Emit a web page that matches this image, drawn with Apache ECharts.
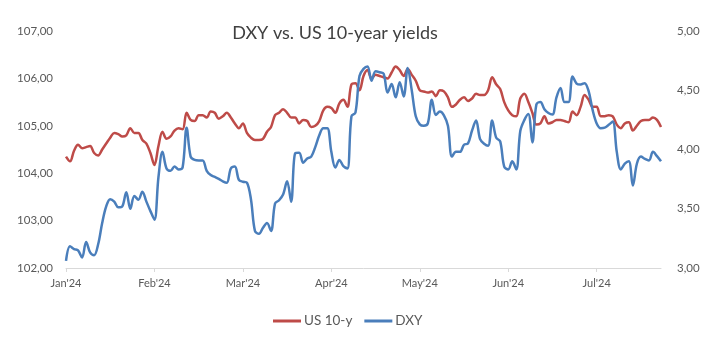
<!DOCTYPE html>
<html>
<head>
<meta charset="utf-8">
<script src="https://cdn.jsdelivr.net/npm/echarts@6/dist/echarts.min.js"></script>
<style>
  html, body { margin: 0; padding: 0; background: #ffffff; }
  #chart { width: 726px; height: 341px; }
</style>
</head>
<body>
<div id="chart"></div>
<script>
// Trading days (weekdays) from 2 Jan 2024 to 26 Jul 2024
const firstDay = '2024-01-02';
const lastDay = '2024-07-26';

// Month labels, one every 22 trading days
const tickLabels = ["Jan'24", "Feb'24", "Mar'24", "Apr'24", "May'24", "Jun'24", "Jul'24"];
const tickEvery = 22;

// US Dollar Index (left axis)
const dxy = [
  // Jan
  102.15, 102.46, 102.40, 102.37, 102.22, 102.55, 102.33, 102.27, 102.50, 102.95, 103.30,
  103.45, 103.40, 103.28, 103.30, 103.60, 103.25, 103.52, 103.44, 103.61, 103.40, 103.20,
  // Feb
  103.02, 103.92, 104.45, 104.10, 104.05, 104.14, 104.08, 104.12, 104.96, 104.35, 104.28,
  104.27, 104.27, 104.05, 103.96, 103.92, 103.88, 103.83, 103.80, 104.10, 104.14,
  // Mar
  103.86, 103.82, 103.80, 103.45, 102.78, 102.72, 102.85, 102.95, 102.78, 103.36, 103.43,
  103.55, 103.83, 103.40, 104.42, 104.43, 104.22, 104.31, 104.35, 104.55, 104.80,
  // Apr
  104.95, 104.95, 104.45, 104.12, 104.28, 104.15, 104.10, 105.20, 105.28, 106.05, 106.20,
  106.25, 105.95, 106.15, 106.13, 106.10, 105.70, 105.88, 105.60, 105.92, 105.62, 106.22,
  // May
  105.75, 105.20, 105.03, 105.00, 105.05, 105.55, 105.23, 105.30, 105.22, 105.00, 104.35,
  104.45, 104.45, 104.60, 104.63, 104.90, 105.11, 104.72, 104.62, 104.58, 105.11, 104.75, 104.67,
  // Jun
  104.14, 104.08, 104.25, 104.08, 104.89, 105.12, 105.25, 104.65, 105.45, 105.50,
  105.35, 105.27, 105.24, 105.60, 105.80, 105.50, 105.50, 106.04, 105.89, 105.87,
  // Jul
  105.90, 105.73, 105.33, 105.05, 104.95, 104.96, 105.02, 105.09, 104.45, 104.08,
  104.20, 104.25, 103.74, 104.20, 104.35, 104.30, 104.27, 104.45, 104.36, 104.25
];

// US 10-year Treasury yield, % (right axis)
const us10y = [
  // Jan
  3.94, 3.90, 3.99, 4.04, 4.01, 4.02, 4.03, 3.97, 3.95, 4.00, 4.05,
  4.10, 4.14, 4.13, 4.11, 4.12, 4.18, 4.14, 4.14, 4.08, 4.05, 3.97,
  // Feb
  3.87, 4.03, 4.15, 4.09, 4.11, 4.16, 4.18, 4.17, 4.31, 4.25, 4.24,
  4.29, 4.29, 4.27, 4.32, 4.31, 4.26, 4.28, 4.31, 4.27, 4.22,
  // Mar
  4.18, 4.22, 4.14, 4.10, 4.08, 4.08, 4.09, 4.15, 4.19, 4.29, 4.31,
  4.34, 4.31, 4.27, 4.27, 4.22, 4.25, 4.24, 4.19, 4.20, 4.24,
  // Apr
  4.33, 4.36, 4.35, 4.31, 4.39, 4.42, 4.36, 4.55, 4.56, 4.50, 4.62,
  4.67, 4.60, 4.63, 4.62, 4.61, 4.60, 4.65, 4.70, 4.67, 4.62, 4.68,
  // May
  4.63, 4.58, 4.50, 4.49, 4.48, 4.49, 4.45, 4.50, 4.49, 4.44, 4.36,
  4.38, 4.42, 4.44, 4.41, 4.43, 4.47, 4.46, 4.46, 4.50, 4.61, 4.55, 4.51,
  // Jun
  4.40, 4.33, 4.29, 4.28, 4.43, 4.47, 4.40, 4.31, 4.21, 4.22,
  4.28, 4.22, 4.23, 4.25, 4.25, 4.24, 4.23, 4.32, 4.29, 4.36,
  // Jul
  4.46, 4.42, 4.36, 4.36, 4.28, 4.28, 4.29, 4.28, 4.21, 4.18,
  4.22, 4.23, 4.16, 4.20, 4.24, 4.25, 4.25, 4.27, 4.25, 4.19
];

// Build the weekday category list
function weekdays(from, to) {
  const out = [];
  const d = new Date(from + 'T00:00:00Z');
  const end = new Date(to + 'T00:00:00Z');
  while (d <= end) {
    const wd = d.getUTCDay();
    if (wd !== 0 && wd !== 6) out.push(d.toISOString().slice(0, 10));
    d.setUTCDate(d.getUTCDate() + 1);
  }
  return out;
}
const days = weekdays(firstDay, lastDay);

const FONT = 'Lato, "Liberation Sans", sans-serif';
const LABEL = '#595959';
const comma = (v, n) => v.toFixed(n).replace('.', ',');

const chart = echarts.init(document.getElementById('chart'), null, { renderer: 'canvas' });
chart.setOption({
  animation: false,
  backgroundColor: '#ffffff',
  textStyle: { fontFamily: FONT },
  title: {
    text: 'DXY vs. US 10-year yields',
    left: 330,
    textAlign: 'center',
    top: 19,
    textStyle: { fontFamily: FONT, fontSize: 18, fontWeight: 'normal', color: '#404040' }
  },
  legend: {
    top: 309,
    left: 268,
    icon: 'rect',
    itemWidth: 28,
    itemHeight: 3,
    itemGap: 12,
    textStyle: { fontFamily: FONT, fontSize: 13.5, color: LABEL, padding: [0, 0, 0, -2] },
    data: ['US 10-y', 'DXY']
  },
  grid: { left: 66, right: 65, top: 31, bottom: 73 },
  xAxis: {
    type: 'category',
    data: days,
    boundaryGap: false,
    axisLine: { lineStyle: { color: '#D9D9D9', width: 1 } },
    axisTick: { show: true, interval: tickEvery - 1, length: 4, lineStyle: { color: '#D9D9D9' } },
    axisLabel: {
      interval: tickEvery - 1,
      margin: 10,
      color: LABEL,
      fontFamily: FONT,
      fontSize: 11,
      formatter: (val, idx) => tickLabels[Math.round(idx / tickEvery)] || ''
    },
    splitLine: { show: false }
  },
  yAxis: [
    {
      type: 'value',
      min: 102,
      max: 107,
      interval: 1,
      axisLine: { show: false },
      axisTick: { show: false },
      splitLine: { show: false },
      axisLabel: { color: LABEL, fontFamily: FONT, fontSize: 11.5, margin: 13, formatter: v => comma(v, 2) }
    },
    {
      type: 'value',
      min: 3,
      max: 5,
      interval: 0.5,
      position: 'right',
      axisLine: { show: false },
      axisTick: { show: false },
      splitLine: { show: false },
      axisLabel: { color: LABEL, fontFamily: FONT, fontSize: 11.5, margin: 16, formatter: v => comma(v, 2) }
    }
  ],
  series: [
    {
      name: 'US 10-y',
      type: 'line',
      yAxisIndex: 1,
      data: us10y,
      smooth: 0.35,
      showSymbol: false,
      lineStyle: { color: '#BE4B48', width: 2.5 },
      itemStyle: { color: '#BE4B48' }
    },
    {
      name: 'DXY',
      type: 'line',
      yAxisIndex: 0,
      data: dxy,
      smooth: 0.35,
      showSymbol: false,
      lineStyle: { color: '#4A7EBB', width: 2.5 },
      itemStyle: { color: '#4A7EBB' }
    }
  ]
});
</script>
</body>
</html>
